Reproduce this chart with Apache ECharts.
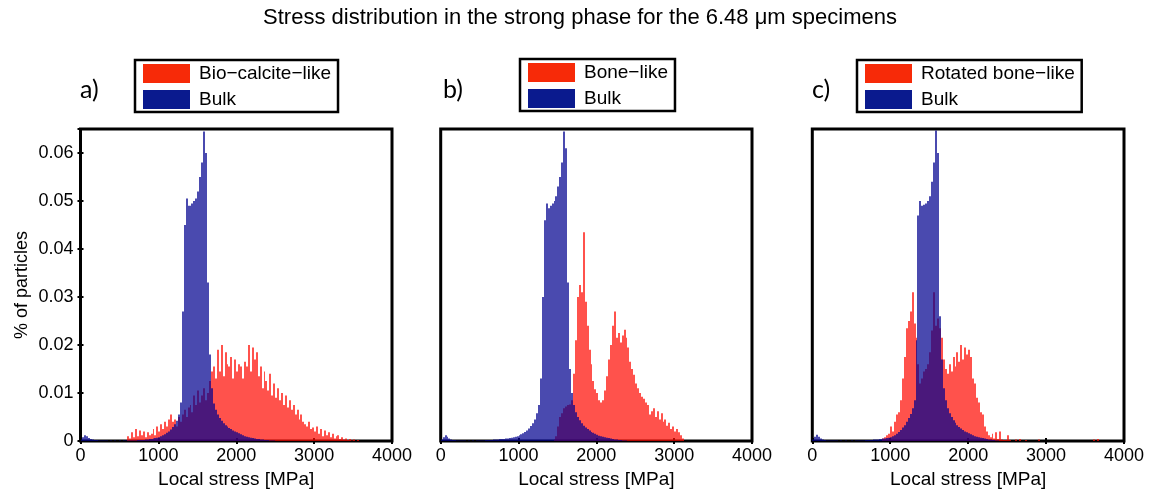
<!DOCTYPE html>
<html>
<head>
<meta charset="utf-8">
<script src="https://cdn.jsdelivr.net/npm/echarts@6/dist/echarts.min.js"></script>
<style>html,body{margin:0;padding:0;background:#fff}#c{width:1151px;height:491px}</style>
</head>
<body>
<div id="c"></div>
<script>
// ---------------- data ----------------
const BIN = 25; // MPa bin width
const chartTitle = 'Stress distribution in the strong phase for the 6.48 \u03bcm specimens';
const panelLabels = ['a)', 'b)', 'c)'];
const redNames = ['Bio\u2212calcite\u2212like', 'Bone\u2212like', 'Rotated bone\u2212like'];
const bulkName = 'Bulk';
const xTicks = [0, 1000, 2000, 3000, 4000];
const yTicks = [0, 0.01, 0.02, 0.03, 0.04, 0.05, 0.06];
const xName = 'Local stress [MPa]';
const yName = '% of particles';

// panel a
const aRedStart = 600;
const aRed = [
  0.0010, 0.0005, 0.0018, 0.0008,
  0.0025, 0.0010, 0.0022, 0.0012,
  0.0020, 0.0008, 0.0018, 0.0012,
  0.0015, 0.0025, 0.0012, 0.0030,
  0.0020, 0.0035, 0.0025, 0.0040,
  0.0030, 0.0045, 0.0055, 0.0040,
  0.0045, 0.0030, 0.0050, 0.0040,
  0.0055, 0.0065, 0.0050, 0.0070,
  0.0075, 0.0060, 0.0095, 0.0075,
  0.0105, 0.0080, 0.0095, 0.0110,
  0.0085, 0.0100, 0.0125, 0.0145,
  0.0155, 0.0130, 0.0190, 0.0145,
  0.0200, 0.0135, 0.0185, 0.0160,
  0.0155, 0.0175, 0.0130, 0.0170,
  0.0145, 0.0160, 0.0155, 0.0130,
  0.0165, 0.0155, 0.0200, 0.0145,
  0.0195, 0.0170, 0.0185, 0.0135,
  0.0155, 0.0110, 0.0145, 0.0125,
  0.0105, 0.0140, 0.0095, 0.0120,
  0.0090, 0.0110, 0.0085, 0.0100,
  0.0075, 0.0095, 0.0070, 0.0085,
  0.0065, 0.0075, 0.0055, 0.0065,
  0.0045, 0.0055, 0.0040, 0.0035,
  0.0030, 0.0040, 0.0025, 0.0028,
  0.0020, 0.0030, 0.0015, 0.0025,
  0.0010, 0.0022, 0.0012, 0.0018,
  0.0008, 0.0015, 0.0005, 0.0010,
  0.0012, 0.0004, 0.0008, 0.0003,
  0.0005, 0.0002, 0.0004, 0.0001,
  0.0003, 0.0000, 0.0002, 0.0000
];
const aBlueStart = 0;
const aBlue = [
  0.0003, 0.0008, 0.0012, 0.0010,
  0.0006, 0.0004, 0.0003, 0.0002,
  0.0002, 0.0001, 0.0001, 0.0001,
  0.0001, 0.0001, 0.0000, 0.0001,
  0.0000, 0.0001, 0.0000, 0.0000,
  0.0001, 0.0000, 0.0001, 0.0001,
  0.0001, 0.0001, 0.0001, 0.0001,
  0.0001, 0.0002, 0.0002, 0.0002,
  0.0002, 0.0003, 0.0003, 0.0004,
  0.0004, 0.0005, 0.0006, 0.0007,
  0.0008, 0.0010, 0.0012, 0.0014,
  0.0017, 0.0020, 0.0024, 0.0029,
  0.0035, 0.0042, 0.0055, 0.0080,
  0.0270, 0.0450, 0.0505, 0.0490,
  0.0490, 0.0495, 0.0500, 0.0505,
  0.0520, 0.0550, 0.0580, 0.0645,
  0.0600, 0.0330, 0.0180, 0.0110,
  0.0078, 0.0065, 0.0055, 0.0048,
  0.0042, 0.0037, 0.0033, 0.0030,
  0.0027, 0.0025, 0.0022, 0.0020,
  0.0018, 0.0016, 0.0014, 0.0012,
  0.0010, 0.0009, 0.0008, 0.0007,
  0.0006, 0.0005, 0.0004, 0.0004,
  0.0003, 0.0003, 0.0002, 0.0002,
  0.0002, 0.0001, 0.0001, 0.0001
];

// panel b
const bRedStart = 1450;
const bRed = [
  0.0003, 0.0010, 0.0030, 0.0050,
  0.0058, 0.0068, 0.0072, 0.0075,
  0.0076, 0.0085, 0.0140, 0.0210,
  0.0300, 0.0325, 0.0310, 0.0435,
  0.0290, 0.0240, 0.0190, 0.0160,
  0.0125, 0.0108, 0.0100, 0.0085,
  0.0080, 0.0085, 0.0105, 0.0135,
  0.0170, 0.0200, 0.0240, 0.0270,
  0.0215, 0.0225, 0.0205, 0.0220,
  0.0232, 0.0215, 0.0195, 0.0165,
  0.0150, 0.0138, 0.0120, 0.0110,
  0.0100, 0.0092, 0.0088, 0.0080,
  0.0075, 0.0055, 0.0062, 0.0068,
  0.0050, 0.0062, 0.0045, 0.0058,
  0.0040, 0.0045, 0.0032, 0.0038,
  0.0025, 0.0030, 0.0020, 0.0025,
  0.0018, 0.0012, 0.0005
];
const bBlueStart = 0;
const bBlue = [
  0.0003, 0.0008, 0.0012, 0.0009,
  0.0005, 0.0003, 0.0002, 0.0002,
  0.0001, 0.0001, 0.0001, 0.0001,
  0.0001, 0.0000, 0.0001, 0.0000,
  0.0001, 0.0000, 0.0001, 0.0001,
  0.0001, 0.0001, 0.0001, 0.0002,
  0.0002, 0.0002, 0.0002, 0.0003,
  0.0003, 0.0003, 0.0004, 0.0004,
  0.0004, 0.0005, 0.0005, 0.0006,
  0.0007, 0.0008, 0.0009, 0.0010,
  0.0012, 0.0014, 0.0016, 0.0019,
  0.0022, 0.0026, 0.0031, 0.0037,
  0.0045, 0.0058, 0.0075, 0.0130,
  0.0300, 0.0460, 0.0495, 0.0485,
  0.0490, 0.0495, 0.0500, 0.0510,
  0.0530, 0.0550, 0.0580, 0.0645,
  0.0610, 0.0330, 0.0150, 0.0100,
  0.0075, 0.0060, 0.0050, 0.0043,
  0.0037, 0.0032, 0.0028, 0.0025,
  0.0022, 0.0019, 0.0017, 0.0015,
  0.0013, 0.0011, 0.0010, 0.0009,
  0.0008, 0.0007, 0.0006, 0.0005,
  0.0004, 0.0003, 0.0003, 0.0002,
  0.0002, 0.0001, 0.0001, 0.0001
];

// panel c
const cRedStart = 900;
const cRed = [
  0.0005, 0.0008, 0.0012, 0.0015,
  0.0030, 0.0020, 0.0040, 0.0055,
  0.0060, 0.0085, 0.0130, 0.0175,
  0.0235, 0.0250, 0.0270, 0.0310,
  0.0245, 0.0215, 0.0160, 0.0120,
  0.0130, 0.0145, 0.0150, 0.0160,
  0.0185, 0.0230, 0.0310, 0.0240,
  0.0255, 0.0235, 0.0215, 0.0170,
  0.0150, 0.0140, 0.0160, 0.0145,
  0.0175, 0.0155, 0.0185, 0.0165,
  0.0200, 0.0170, 0.0195, 0.0180,
  0.0190, 0.0175, 0.0130, 0.0120,
  0.0090, 0.0080, 0.0060, 0.0055,
  0.0030, 0.0020, 0.0012, 0.0008,
  0.0015, 0.0005, 0.0018, 0.0004,
  0.0020, 0.0003, 0.0002, 0.0002,
  0.0012, 0.0002, 0.0000, 0.0000,
  0.0003, 0.0000, 0.0004, 0.0000,
  0.0000, 0.0002, 0.0000, 0.0000,
  0.0000, 0.0000, 0.0000, 0.0000,
  0.0003, 0.0000, 0.0000, 0.0000,
  0.0000, 0.0000, 0.0000, 0.0000,
  0.0000, 0.0000, 0.0000, 0.0000,
  0.0000, 0.0000, 0.0000, 0.0000,
  0.0000, 0.0000, 0.0000, 0.0000,
  0.0000, 0.0000, 0.0000, 0.0000,
  0.0000, 0.0000, 0.0000, 0.0000,
  0.0003, 0.0000, 0.0004, 0.0000
];
const cBlueStart = 0;
const cBlue = [
  0.0003, 0.0009, 0.0013, 0.0009,
  0.0005, 0.0003, 0.0002, 0.0001,
  0.0001, 0.0001, 0.0001, 0.0001,
  0.0001, 0.0000, 0.0001, 0.0000,
  0.0000, 0.0001, 0.0000, 0.0000,
  0.0001, 0.0000, 0.0001, 0.0001,
  0.0001, 0.0001, 0.0001, 0.0002,
  0.0002, 0.0002, 0.0002, 0.0003,
  0.0003, 0.0003, 0.0004, 0.0004,
  0.0005, 0.0005, 0.0006, 0.0007,
  0.0008, 0.0010, 0.0012, 0.0015,
  0.0019, 0.0023, 0.0028, 0.0033,
  0.0040, 0.0048, 0.0056, 0.0068,
  0.0085, 0.0210, 0.0470, 0.0500,
  0.0490, 0.0492, 0.0495, 0.0500,
  0.0510, 0.0540, 0.0580, 0.0647,
  0.0600, 0.0260, 0.0170, 0.0110,
  0.0085, 0.0068, 0.0058, 0.0050,
  0.0043, 0.0038, 0.0033, 0.0029,
  0.0026, 0.0023, 0.0020, 0.0018,
  0.0016, 0.0014, 0.0012, 0.0010,
  0.0009, 0.0008, 0.0007, 0.0006,
  0.0005, 0.0004, 0.0003, 0.0003,
  0.0002, 0.0002, 0.0001, 0.0001
];

// ---------------- build ----------------
const panels = [
  { red: aRed, redStart: aRedStart, blue: aBlue, blueStart: aBlueStart },
  { red: bRed, redStart: bRedStart, blue: bBlue, blueStart: bBlueStart },
  { red: cRed, redStart: cRedStart, blue: cBlue, blueStart: cBlueStart }
];

const FONT = 'Liberation Sans';
const RED_FILL = 'rgba(255,8,0,0.70)';
const BLUE_FILL = 'rgba(0,0,142,0.71)';
const RED_LEGEND = '#f72a08';
const BLUE_LEGEND = '#0a1a8e';

const gridPos = [
  { left: 80.5, width: 311.5 },
  { left: 440.7, width: 311.3 },
  { left: 812.3, width: 311.7 }
];
const legendPos = [
  { left: 135, top: 60 },
  { left: 520, top: 59 },
  { left: 857, top: 60 }
];
const labelPos = [80, 443, 812];

function toBins(arr, start) {
  return arr.map((v, i) => [start + i * BIN, start + (i + 1) * BIN, v]);
}

function makeRender(fill) {
  return function (params, api) {
    const x0 = api.value(0), x1 = api.value(1), v = api.value(2);
    if (!v) return null;
    const p0 = api.coord([x0, v]);
    const p1 = api.coord([x1, 0]);
    const xa = Math.round(p0[0]), xb = Math.round(p1[0]);
    return {
      type: 'rect',
      shape: { x: xa, y: p0[1], width: xb - xa, height: p1[1] - p0[1] },
      style: { fill: fill }
    };
  };
}

const grid = [], xAxis = [], yAxis = [], series = [], legend = [], graphic = [];

graphic.push({
  type: 'text', x: 580, y: 7,
  style: { text: chartTitle, font: '22px "' + FONT + '"', fill: '#000', textAlign: 'center', textVerticalAlign: 'top' }
});

panels.forEach((p, k) => {
  grid.push({
    left: gridPos[k].left, width: gridPos[k].width, top: 129, height: 312,
    containLabel: false, outerBoundsMode: 'none',
    show: true, borderColor: '#000', borderWidth: 3, backgroundColor: '#fff', z: 0
  });
  xAxis.push({
    type: 'value', gridIndex: k, min: xTicks[0], max: xTicks[xTicks.length - 1], interval: 1000,
    position: 'bottom',
    axisLine: { show: false },
    axisTick: { show: true, inside: true, length: 3, lineStyle: { color: '#000', width: 2 } },
    splitLine: { show: false },
    axisLabel: { fontFamily: FONT, fontSize: 18, color: '#000', margin: 6, formatter: v => String(v) },
    name: xName, nameLocation: 'middle', nameGap: 28,
    nameTextStyle: { fontFamily: FONT, fontSize: 19, color: '#000' }
  });
  xAxis.push({
    type: 'value', gridIndex: k, min: xTicks[0], max: xTicks[xTicks.length - 1], interval: 1000,
    position: 'top',
    axisLine: { show: false },
    axisTick: { show: true, inside: true, length: 3, lineStyle: { color: '#000', width: 2 } },
    splitLine: { show: false },
    axisLabel: { show: false }
  });
  const first = k === 0;
  yAxis.push({
    type: 'value', gridIndex: k, min: 0, max: 0.065, interval: 0.01,
    position: 'left',
    axisLine: { show: false },
    axisTick: { show: first, inside: true, length: 3, lineStyle: { color: '#000', width: 2 } },
    splitLine: { show: false },
    axisLabel: {
      show: first, fontFamily: FONT, fontSize: 18, color: '#000', margin: 7,
      formatter: v => (yTicks.some(t => Math.abs(t - v) < 1e-9) ? String(+v.toFixed(2)) : '')
    },
    name: first ? yName : '', nameLocation: 'middle', nameGap: 49, nameRotate: 90,
    nameTextStyle: { fontFamily: FONT, fontSize: 18, color: '#000' }
  });
  yAxis.push({
    type: 'value', gridIndex: k, min: 0, max: 0.065, interval: 0.01,
    position: 'right',
    axisLine: { show: false },
    axisTick: { show: first, inside: true, length: 3, lineStyle: { color: '#000', width: 2 } },
    splitLine: { show: false },
    axisLabel: { show: false }
  });

  series.push({
    type: 'custom', name: redNames[k], xAxisIndex: 2 * k, yAxisIndex: 2 * k,
    itemStyle: { color: RED_LEGEND },
    renderItem: makeRender(RED_FILL),
    encode: { x: [0, 1], y: 2 },
    data: toBins(p.red, p.redStart), z: 2, silent: true, animation: false
  });
  series.push({
    type: 'custom', name: bulkName, xAxisIndex: 2 * k, yAxisIndex: 2 * k,
    itemStyle: { color: BLUE_LEGEND },
    renderItem: makeRender(BLUE_FILL),
    encode: { x: [0, 1], y: 2 },
    data: toBins(p.blue, p.blueStart), z: 3, silent: true, animation: false
  });

  legend.push({
    orient: 'vertical', left: legendPos[k].left, top: legendPos[k].top,
    data: [{ name: redNames[k], icon: 'rect' }, { name: bulkName, icon: 'rect' }],
    itemWidth: 47, itemHeight: 19, itemGap: 7,
    padding: [4, 7, 3, 8],
    borderColor: '#000', borderWidth: 2.5, backgroundColor: '#fff',
    selectedMode: false,
    textStyle: { fontFamily: FONT, fontSize: 19, color: '#000', padding: [0, 0, 0, 4] }
  });

  graphic.push({
    type: 'text', x: labelPos[k], y: 90,
    style: { text: panelLabels[k], font: '25px "Lato"', fill: '#000', textVerticalAlign: 'middle' }
  });
});

const chart = echarts.init(document.getElementById('c'), null, { renderer: 'canvas' });
chart.setOption({
  animation: false,
  backgroundColor: '#fff',
  grid, xAxis, yAxis, series, legend, graphic
});
</script>
</body>
</html>
